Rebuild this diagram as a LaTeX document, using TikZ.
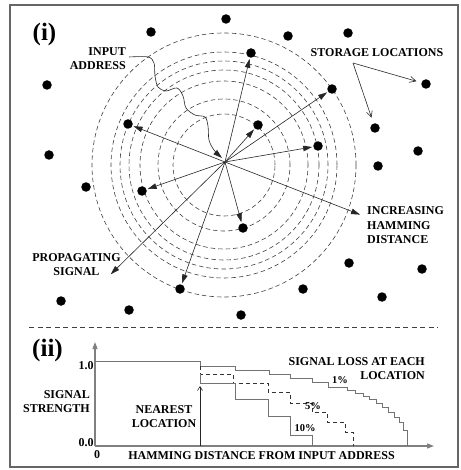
\documentclass[tikz,border=0pt]{standalone}
\usepackage{fontspec}
\setmainfont{Liberation Serif}
\usetikzlibrary{arrows.meta}
\begin{document}
\begin{tikzpicture}[x=1pt,y=-1pt,
  lbl/.style={font=\fontsize{12}{13.5}\selectfont\bfseries, inner sep=0pt},
  pct/.style={font=\fontsize{10.5}{12}\selectfont\bfseries, inner sep=0pt},
  big/.style={font=\fontsize{25}{28}\selectfont\bfseries, inner sep=0pt},
  loc/.style={circle, fill=black, inner sep=0pt, minimum size=9.5pt},
  ring/.style={draw=black!75, dash pattern=on 4.5pt off 3pt, line width=0.6pt},
  sig/.style={draw=black!85, line width=0.6pt, shorten >=1pt, -{Triangle[length=9pt,width=5.5pt]}},
  ptr/.style={draw=black!85, line width=0.6pt, -{Straight Barb[length=6pt,width=6pt]}},
  axis/.style={draw=black!50, line width=1.1pt, -{Triangle[length=7pt,width=5pt]}},
  curve/.style={draw=black!55, line width=1pt},
  dcurve/.style={draw=black!80, line width=0.6pt, dash pattern=on 4pt off 3pt},
]
\useasboundingbox (0,0) rectangle (460,470);
% outer frame
\draw[black!60, line width=1.2pt] (10,5) rectangle (458,467);

% ---------- panel (i) ----------
\node[big] (pi) at (44.5,34) {(i)};

% rings of equal Hamming distance
\foreach \r in {51,66,84,95,104,113,132}
  \draw[ring] (224,165) circle[radius=\r pt];

% storage locations
\foreach \n/\p in {d1/{(226,19)}, d2/{(151,32)}, d3/{(288,36)}, d4/{(348,33)},
  d5/{(251,53)}, d6/{(47,85)}, d7/{(426,84)}, d8/{(332,89)}, d9/{(128,124)},
  d10/{(258,125)}, d11/{(375,128)}, d12/{(318,146)}, d13/{(49,155)},
  d14/{(418,151)}, d15/{(378,166)}, d16/{(86,187)}, d17/{(142,191)},
  d18/{(243,228)}, d19/{(349,263)}, d20/{(422,269)}, d21/{(180,289)},
  d22/{(303,289)}, d23/{(382,297)}, d24/{(61,301)}, d25/{(129,310)},
  d26/{(241,315)}}
  \node[loc] (\n) at \p {};

\coordinate (c) at (225,162);

% propagating signal
\foreach \t in {d5,d8,d9,d10,d12,d17,d18,d21}
  \draw[sig] (c) -- (\t);
\coordinate (hd) at (361,215);
\coordinate (ps) at (110,275);
\draw[sig] (c) -- (hd);
\draw[sig] (c) -- (ps);

% labels
\node[lbl, align=right, anchor=east] (inaddr) at (126,58.5) {INPUT\\ADDRESS};
\coordinate (ia) at (129,57);
\draw[draw=black!85, line width=0.6pt, -{Triangle[length=9pt,width=5.5pt]}]
  plot[smooth, tension=0.55] coordinates {(ia) (148,57) (154,63) (155,76) (158,87)
  (166,91) (177,88) (183,96) (186,108) (195,115) (205,117) (208,126) (209,140)
  (214,150) (222,158)};

\node[lbl] (stor) at (377,53) {STORAGE LOCATIONS};
\coordinate (sl) at (353,63);
\draw[ptr, shorten >=5pt] (sl) -- (d7);
\draw[ptr, shorten >=6pt] (sl) -- (d11);

\node[lbl, align=left, anchor=west, font=\fontsize{12}{14.5}\selectfont\bfseries]
  (inc) at (367,225.5) {INCREASING\\HAMMING\\DISTANCE};
\node[lbl, align=center, font=\fontsize{12}{14}\selectfont\bfseries]
  (prop) at (76.5,265) {PROPAGATING\\SIGNAL};

% separator
\coordinate (s1) at (29,327);
\coordinate (s2) at (438,327);
\draw[black!75, line width=0.6pt, dash pattern=on 5pt off 3.5pt] (s1) -- (s2);

% ---------- panel (ii) ----------
\node[big] (pii) at (47.5,350) {(ii)};

\coordinate (o) at (95,446);
\coordinate (ytop) at (95,342);
\coordinate (xend) at (434,446);
\draw[axis] (o) -- (ytop);
\draw[axis] (o) -- (xend);

\node[lbl] (one) at (86,366) {1.0};
\node[lbl] (zero) at (86,443) {0.0};
\node[lbl] (orig) at (97,455) {0};

\node[lbl, align=right, anchor=east] (ss) at (90,401.5) {SIGNAL\\STRENGTH};
\node[lbl, align=center] (near) at (164,416.5) {NEAREST\\LOCATION};
\node[lbl, align=right, anchor=east, font=\fontsize{12}{14}\selectfont\bfseries]
  (loss) at (425,369) {SIGNAL LOSS AT EACH\\LOCATION};
\node[lbl] (hx) at (261.5,456) {HAMMING DISTANCE FROM INPUT ADDRESS};

% signal strength against distance
\draw[curve] (95,361) -- (200,361);
\draw[curve] (200,361) -- (200,366) -| (235,370) -| (269,374) -| (290,378)
  -| (312,382) -| (328,387) -| (347,390) -| (355,393) -| (363,396) -| (369,399)
  -| (376,403) -| (382,407) -| (388,412) -| (394,417) -| (399,422) -| (403,430)
  -| (407,446);
\draw[dcurve] (200,366) -- (200,374) -| (233,383) -| (268,392) -| (290,403)
  -| (312,412) -| (327,422) -| (345,432) -| (353,446);
\draw[curve] (200,374) -- (200,383) -| (235,399) -| (268,416) -| (290,435)
  -| (312,446);

\node[pct] (p1) at (340,380) {1\%};
\node[pct] (p5) at (313,406) {5\%};
\node[pct] (p10) at (305,428) {10\%};

% nearest location marker
\coordinate (nb) at (200,446);
\coordinate (nt) at (200,386);
\draw[black!85, line width=0.6pt, -{Straight Barb[length=4pt,width=5pt]}] (nb) -- (nt);
\end{tikzpicture}
\end{document}
